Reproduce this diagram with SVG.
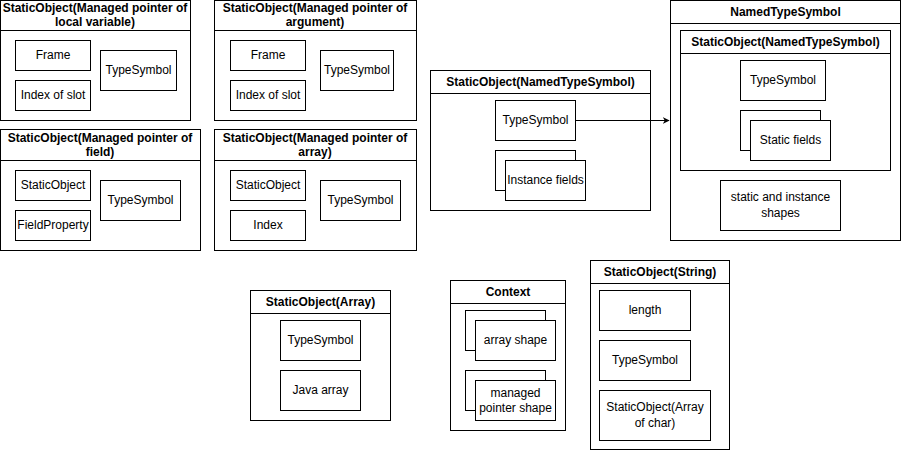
<svg xmlns="http://www.w3.org/2000/svg" width="901" height="451" viewBox="0 0 901 451">
<defs>
<style>
rect{fill:#fff;stroke:#000;stroke-width:1}
line.h{stroke:#000;stroke-width:1}
text{font-family:"Liberation Sans",Arial,sans-serif;font-size:12px;fill:#000;text-anchor:middle}
text.b{font-weight:bold}
</style>
<marker id="arr" viewBox="0 0 10 10" refX="9" refY="5" markerWidth="7" markerHeight="7" markerUnits="userSpaceOnUse" orient="auto"><path d="M0,0 L10,5 L0,10 L3,5 Z" fill="#000"/></marker>
</defs>

<g id="mp-local">
<rect x="0.5" y="0.5" width="190" height="120"/>
<line class="h" x1="0.5" y1="30.5" x2="190.5" y2="30.5"/>
<text class="b" x="95" y="12">StaticObject(Managed pointer of</text>
<text class="b" x="95" y="26">local variable)</text>
<rect x="15.5" y="40.5" width="75" height="30"/><text x="53" y="59">Frame</text>
<rect x="15.5" y="80.5" width="75" height="30"/><text x="53" y="99">Index of slot</text>
<rect x="100.5" y="50.5" width="76" height="40"/><text x="138.5" y="74">TypeSymbol</text>
</g>

<g id="mp-arg">
<rect x="214.5" y="0.5" width="202" height="120"/>
<line class="h" x1="214.5" y1="30.5" x2="416.5" y2="30.5"/>
<text class="b" x="315" y="12">StaticObject(Managed pointer of</text>
<text class="b" x="315" y="26">argument)</text>
<rect x="230.5" y="40.5" width="75" height="30"/><text x="268" y="59">Frame</text>
<rect x="230.5" y="80.5" width="75" height="30"/><text x="268" y="99">Index of slot</text>
<rect x="320.5" y="50.5" width="73" height="40"/><text x="357" y="74">TypeSymbol</text>
</g>

<g id="mp-field">
<rect x="0.5" y="129.5" width="200" height="121"/>
<line class="h" x1="0.5" y1="160.5" x2="200.5" y2="160.5"/>
<text class="b" x="100" y="142">StaticObject(Managed pointer of</text>
<text class="b" x="100" y="156">field)</text>
<rect x="15.5" y="170.5" width="75" height="30"/><text x="53" y="189">StaticObject</text>
<rect x="15.5" y="210.5" width="75" height="30"/><text x="53" y="229">FieldProperty</text>
<rect x="100.5" y="180.5" width="80" height="40"/><text x="140.5" y="204">TypeSymbol</text>
</g>

<g id="mp-array">
<rect x="214.5" y="129.5" width="202" height="121"/>
<line class="h" x1="214.5" y1="160.5" x2="416.5" y2="160.5"/>
<text class="b" x="315" y="142">StaticObject(Managed pointer of</text>
<text class="b" x="315" y="156">array)</text>
<rect x="230.5" y="170.5" width="75" height="30"/><text x="268" y="189">StaticObject</text>
<rect x="230.5" y="210.5" width="75" height="30"/><text x="268" y="229">Index</text>
<rect x="320.5" y="180.5" width="80" height="40"/><text x="360.5" y="204">TypeSymbol</text>
</g>

<g id="so-named">
<rect x="430.5" y="70.5" width="220" height="140"/>
<line class="h" x1="430.5" y1="93.5" x2="650.5" y2="93.5"/>
<text class="b" x="540.5" y="86">StaticObject(NamedTypeSymbol)</text>
<rect x="495.5" y="100.5" width="80" height="40"/><text x="535.5" y="124">TypeSymbol</text>
<rect x="495.5" y="150.5" width="80" height="40"/>
<rect x="505.5" y="160.5" width="80" height="40"/><text x="545.5" y="184">Instance fields</text>
</g>

<g id="named-type-symbol">
<rect x="670.5" y="0.5" width="230" height="240"/>
<line class="h" x1="670.5" y1="23.5" x2="900.5" y2="23.5"/>
<text class="b" x="785.5" y="16">NamedTypeSymbol</text>
<rect x="680.5" y="30.5" width="210" height="140"/>
<line class="h" x1="680.5" y1="53.5" x2="890.5" y2="53.5"/>
<text class="b" x="785.5" y="46">StaticObject(NamedTypeSymbol)</text>
<rect x="740.5" y="60.5" width="85" height="40"/><text x="783" y="84">TypeSymbol</text>
<rect x="740.5" y="110.5" width="80" height="40"/>
<rect x="750.5" y="120.5" width="80" height="40"/><text x="790.5" y="144">Static fields</text>
<rect x="720.5" y="180.5" width="120" height="50"/>
<text x="780.5" y="201">static and instance</text>
<text x="780.5" y="217">shapes</text>
</g>

<g id="so-array">
<rect x="250.5" y="290.5" width="140" height="130"/>
<line class="h" x1="250.5" y1="313.5" x2="390.5" y2="313.5"/>
<text class="b" x="320.5" y="306">StaticObject(Array)</text>
<rect x="280.5" y="320.5" width="80" height="40"/><text x="320.5" y="344">TypeSymbol</text>
<rect x="280.5" y="370.5" width="80" height="40"/><text x="320.5" y="394">Java array</text>
</g>

<g id="context">
<rect x="450.5" y="280.5" width="115" height="150"/>
<line class="h" x1="450.5" y1="303.5" x2="565.5" y2="303.5"/>
<text class="b" x="508" y="296">Context</text>
<rect x="465.5" y="310.5" width="80" height="40"/>
<rect x="475.5" y="320.5" width="80" height="40"/><text x="515.5" y="344">array shape</text>
<rect x="465.5" y="370.5" width="80" height="40"/>
<rect x="475.5" y="380.5" width="80" height="40"/>
<text x="515.5" y="397">managed</text>
<text x="515.5" y="412">pointer shape</text>
</g>

<g id="so-string">
<rect x="590.5" y="260.5" width="139" height="189"/>
<line class="h" x1="590.5" y1="283.5" x2="729.5" y2="283.5"/>
<text class="b" x="660" y="276">StaticObject(String)</text>
<rect x="599.5" y="290.5" width="91" height="40"/><text x="645" y="314">length</text>
<rect x="599.5" y="340.5" width="91" height="40"/><text x="645" y="364">TypeSymbol</text>
<rect x="599.5" y="390.5" width="111" height="50"/>
<text x="655" y="411">StaticObject(Array</text>
<text x="655" y="427">of char)</text>
</g>

<g id="connectors">
<line x1="575.5" y1="120.5" x2="669" y2="120.5" stroke="#000" stroke-width="1" marker-end="url(#arr)"/>
</g>
</svg>
